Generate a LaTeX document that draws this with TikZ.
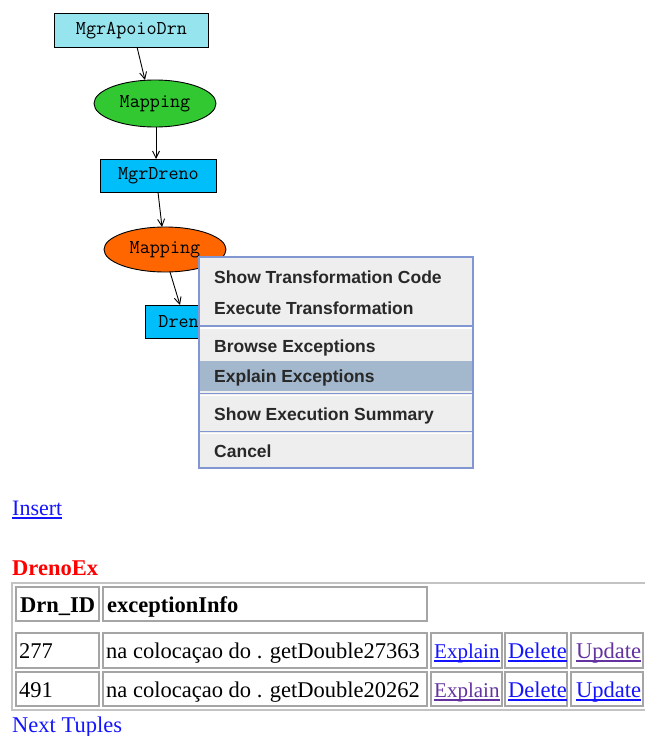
\documentclass[tikz,border=0pt]{standalone}
\usepackage{fontspec}
\setmainfont{Liberation Serif}
\setmonofont{Latin Modern Mono}
\newfontfamily\menufont{Liberation Sans}
\usetikzlibrary{arrows.meta,shapes.geometric}

\definecolor{boxcyan}{RGB}{150,228,238}
\definecolor{boxblue}{RGB}{0,190,250}
\definecolor{mapgreen}{RGB}{50,200,50}
\definecolor{maporange}{RGB}{255,102,0}
\definecolor{menubg}{RGB}{238,238,238}
\definecolor{menuedge}{RGB}{130,150,210}
\definecolor{menuhi}{RGB}{163,184,204}
\definecolor{menutext}{RGB}{40,40,40}
\definecolor{linkblue}{RGB}{20,20,255}
\definecolor{linkvisited}{RGB}{100,50,160}
\definecolor{cellgray}{RGB}{165,165,165}
\definecolor{tablegray}{RGB}{195,195,195}

\tikzset{
  graphtext/.style={font=\ttfamily\fontsize{19.6}{22}\selectfont},
  gnode/.style={draw=black, line width=0.9pt, graphtext, inner sep=0pt, anchor=north west},
  mapnode/.style={ellipse, draw=black, line width=0.9pt, inner sep=0pt, graphtext},
  flow/.style={line width=0.9pt, -{Straight Barb[length=7pt,width=7pt,line width=0.9pt]}},
  menuitem/.style={anchor=base west, inner sep=0pt, text=menutext,
    font=\menufont\bfseries\fontsize{17.5}{20}\selectfont},
  sepline/.style={menuedge, line width=1.2pt},
  cell/.style={draw=cellgray, line width=1.4pt},
  celltext/.style={anchor=base west, inner sep=0pt, font=\fontsize{22.5}{26}\selectfont},
  headtext/.style={anchor=base west, inner sep=0pt, font=\bfseries\fontsize{22.5}{26}\selectfont},
  linkline/.style={line width=1.1pt}
}

\begin{document}
\begin{tikzpicture}[x=1pt, y=-1pt]
\useasboundingbox[fill=white] (0,0) rectangle (645,736);

% ---- transformation graph ----
\node[gnode, fill=boxcyan, minimum width=154pt, minimum height=34pt] (apoio) at (54,13) {MgrApoioDrn};
\node[mapnode, fill=mapgreen, minimum width=122pt, minimum height=47pt] (map1) at (155,103.5) {Mapping};
\node[gnode, fill=boxblue, minimum width=116pt, minimum height=33pt] (dreno) at (100,159) {MgrDreno};
\node[mapnode, fill=maporange, minimum width=122pt, minimum height=45pt] (map2) at (165,249.5) {Mapping};
\node[gnode, fill=boxblue, minimum width=110pt, minimum height=33pt, text width=110pt, align=left] (drenoex) at (145,305) {\hspace*{13pt}DrenoEx};

\coordinate (a1s) at (137,47);
\coordinate (a1e) at (145,80);
\coordinate (a2s) at (156,127);
\coordinate (a2e) at (156,159);
\coordinate (a3s) at (158,192);
\coordinate (a3e) at (162,227);
\coordinate (a4s) at (170,272);
\coordinate (a4e) at (180,305);
\draw[flow] (a1s) -- (a1e);
\draw[flow] (a2s) -- (a2e);
\draw[flow] (a3s) -- (a3e);
\draw[flow] (a4s) -- (a4e);

% ---- popup menu ----
\fill[menubg] (199,257) rectangle (473,468);
\fill[menuhi] (199,361) rectangle (473,391);
\draw[sepline] (199,326) -- (473,326);
\draw[white, line width=1.2pt] (199,328) -- (473,328);
\draw[sepline] (199,393.5) -- (473,393.5);
\draw[white, line width=1.2pt] (199,395.5) -- (473,395.5);
\draw[sepline] (199,431.5) -- (473,431.5);
\draw[white, line width=1.2pt] (199,433.5) -- (473,433.5);
\draw[menuedge, line width=1.3pt] (199,257) rectangle (473,468);

\node[menuitem] (m1) at (214,283) {Show Transformation Code};
\node[menuitem] (m2) at (214,314) {Execute Transformation};
\node[menuitem] (m3) at (214,352) {Browse Exceptions};
\node[menuitem] (m4) at (214,382) {Explain Exceptions};
\node[menuitem] (m5) at (214,420) {Show Execution Summary};
\node[menuitem] (m6) at (214,457) {Cancel};

% ---- page below the graph ----
\node[celltext, text=linkblue, font=\fontsize{22}{26}\selectfont] (insert) at (12,515) {Insert};
\draw[linkblue, linkline] ([yshift=-3pt]insert.base west) -- ([yshift=-3pt]insert.base east);

\node[headtext, text=red] (title) at (12,575) {DrenoEx};

% table frame
\draw[tablegray, line width=1.6pt] (12,583) rectangle (646,710);

% header row
\draw[cell] (16,587) rectangle (99,621);
\draw[cell] (103,587) rectangle (427,621);
\node[headtext] (h1) at (20,612) {Drn\_ID};
\node[headtext] (h2) at (107,612) {exceptionInfo};

% data rows
\foreach \top/\bot/\base/\id/\info/\ca/\cb/\cc in
  {633/668/658/277/getDouble27363/linkblue/linkblue/linkvisited,
   672/706/697/491/getDouble20262/linkvisited/linkblue/linkblue}{
  \draw[cell] (16,\top) rectangle (99,\bot);
  \draw[cell] (103,\top) rectangle (427,\bot);
  \draw[cell] (431,\top) rectangle (502,\bot);
  \draw[cell] (505,\top) rectangle (567,\bot);
  \draw[cell] (571,\top) rectangle (643,\bot);
  \node[celltext] at (19,\base) {\id};
  \node[celltext] at (106,\base) {na colocaçao do . \info};
  \node[celltext, text=\ca, font=\fontsize{21}{26}\selectfont] (ex\id) at (434,\base) {Explain};
  \draw[\ca, linkline] ([yshift=-3pt]ex\id.base west) -- ([yshift=-3pt]ex\id.base east);
  \node[celltext, text=\cb] (de\id) at (508,\base) {Delete};
  \draw[\cb, linkline] ([yshift=-3pt]de\id.base west) -- ([yshift=-3pt]de\id.base east);
  \node[celltext, text=\cc] (up\id) at (576,\base) {Update};
  \draw[\cc, linkline] ([yshift=-3pt]up\id.base west) -- ([yshift=-3pt]up\id.base east);
}

\node[celltext, text=linkblue] (next) at (12,732) {Next Tuples};
\end{tikzpicture}
\end{document}
